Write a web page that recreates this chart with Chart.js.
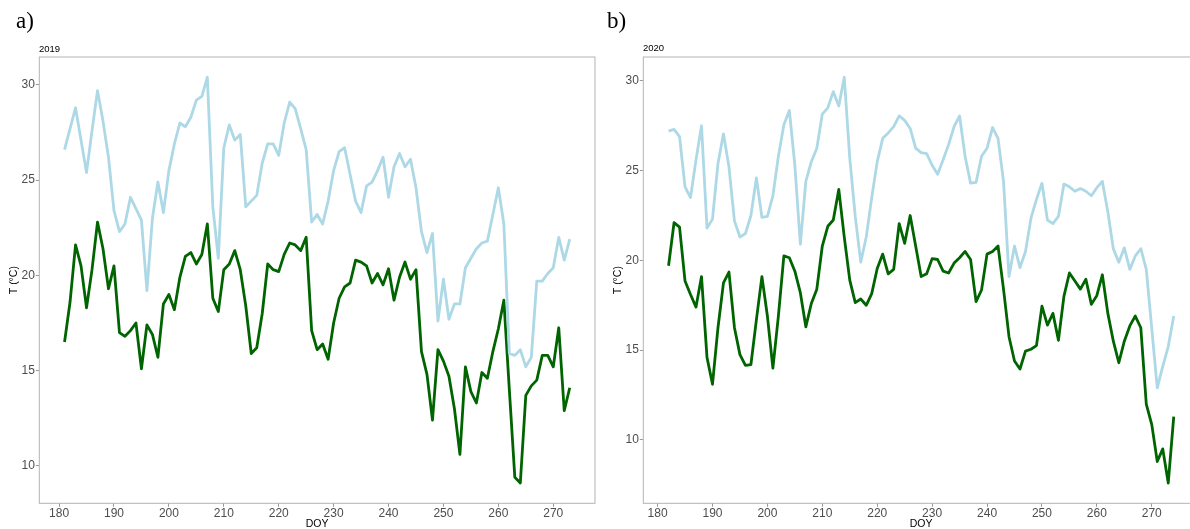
<!DOCTYPE html>
<html>
<head>
<meta charset="utf-8">
<script src="https://cdn.jsdelivr.net/npm/chart.js@4/dist/chart.umd.min.js"></script>
<style>
  html, body { margin: 0; padding: 0; background: #fff; }
  #wrap { position: relative; width: 1190px; height: 529px; overflow: hidden; }
  canvas { position: absolute; top: 0; }
  .tag { position: absolute; font-family: "Liberation Serif", serif; font-size: 23px; line-height: 1; color: #000; }
  .year { position: absolute; font-family: "Liberation Sans", sans-serif; font-size: 9.5px; line-height: 1; color: #000; }
</style>
</head>
<body>
<div id="wrap">
  <canvas id="c2019" width="600" height="529" style="left:0px"></canvas>
  <canvas id="c2020" width="600" height="529" style="left:604px"></canvas>
  <div class="tag" style="left:16px;top:9px">a)</div>
  <div class="tag" style="left:607px;top:9px">b)</div>
  <div class="year" style="left:39px;top:44px">2019</div>
  <div class="year" style="left:643px;top:43px">2020</div>
</div>
<script>
// daily values, DOY 181-273 (2019) and 182-274 (2020)
const doy2019 = Array.from({ length: 93 }, (_, i) => 181 + i);
const doy2020 = Array.from({ length: 93 }, (_, i) => 182 + i);

const high2019 = [
  26.6, 27.7, 28.8, 27.1, 25.4, 27.6, 29.7, 28.1, 26.2, 23.4,
  22.3, 22.7, 24.1, 23.5, 22.9, 19.2, 23.0, 24.9, 23.3, 25.5,
  26.9, 28.0, 27.8, 28.3, 29.2, 29.4, 30.4, 23.6, 20.9, 26.7,
  27.9, 27.1, 27.4, 23.6, 23.9, 24.2, 25.9, 26.9, 26.9, 26.3,
  28.0, 29.1, 28.75, 27.7, 26.6, 22.8, 23.2, 22.7, 23.9, 25.5,
  26.5, 26.7, 25.3, 23.9, 23.3, 24.7, 24.9, 25.5, 26.2, 24.1,
  25.7, 26.4, 25.7, 26.1, 24.6, 22.3, 21.2, 22.2, 17.6, 19.8,
  17.7, 18.5, 18.5, 20.4, 20.9, 21.4, 21.7, 21.8, 23.2, 24.6,
  22.7, 15.9, 15.8, 16.1, 15.2, 15.7, 19.7, 19.7, 20.1, 20.4,
  22.0, 20.8, 21.9
];
const low2019 = [
  16.5, 18.6, 21.6, 20.5, 18.3, 20.3, 22.8, 21.4, 19.3, 20.5,
  17.0, 16.8, 17.1, 17.5, 15.1, 17.4, 16.9, 15.7, 18.5, 19.0,
  18.2, 19.9, 21.0, 21.2, 20.6, 21.1, 22.7, 18.8, 18.1, 20.3,
  20.6, 21.3, 20.3, 18.4, 15.9, 16.2, 18.0, 20.6, 20.3, 20.2,
  21.1, 21.7, 21.6, 21.3, 22.0, 17.1, 16.1, 16.4, 15.6, 17.5,
  18.8, 19.4, 19.6, 20.8, 20.7, 20.5, 19.6, 20.1, 19.5, 20.35,
  18.7, 19.9, 20.7, 19.8, 20.3, 16.0, 14.8, 12.4, 16.1, 15.5,
  14.7, 13.0, 10.6, 15.2, 13.9, 13.3, 14.9, 14.6, 16.0, 17.2,
  18.7, 14.0, 9.4, 9.1, 13.7, 14.2, 14.5, 15.8, 15.8, 15.2,
  17.25, 12.9, 14.1
];
const high2020 = [
  27.2, 27.3, 26.9, 24.1, 23.5, 25.6, 27.5, 21.8, 22.3, 25.4,
  27.05, 25.2, 22.2, 21.3, 21.5, 22.5, 24.6, 22.4, 22.45, 23.6,
  25.8, 27.55, 28.35, 25.3, 20.9, 24.4, 25.5, 26.25, 28.15, 28.5,
  29.4, 28.6, 30.2, 25.7, 22.45, 19.9, 21.3, 23.5, 25.5, 26.8,
  27.1, 27.45, 28.05, 27.8, 27.35, 26.25, 26.0, 25.95, 25.3, 24.8,
  25.6, 26.45, 27.45, 28.05, 25.8, 24.3, 24.35, 25.8, 26.25, 27.4,
  26.8, 24.4, 19.1, 20.8, 19.6, 20.5, 22.35, 23.4, 24.3, 22.25,
  22.05, 22.45, 24.25, 24.1, 23.85, 24.0, 23.85, 23.6, 24.05, 24.4,
  22.7, 20.65, 19.9, 20.7, 19.5, 20.25, 20.65, 19.5, 16.2, 12.9,
  14.1, 15.2, 16.9
];
const low2020 = [
  19.7, 22.1, 21.85, 18.85, 18.1, 17.4, 19.1, 14.6, 13.1, 16.25,
  18.75, 19.35, 16.25, 14.75, 14.15, 14.2, 16.7, 19.1, 16.9, 14.0,
  16.9, 20.25, 20.15, 19.4, 18.2, 16.3, 17.6, 18.4, 20.8, 21.9,
  22.25, 23.95, 21.3, 18.9, 17.65, 17.85, 17.5, 18.15, 19.55, 20.35,
  19.25, 19.5, 22.05, 20.95, 22.5, 20.8, 19.1, 19.25, 20.1, 20.05,
  19.4, 19.3, 19.85, 20.15, 20.5, 20.05, 17.7, 18.35, 20.35, 20.5,
  20.8, 18.4, 15.75, 14.4, 13.95, 14.95, 15.05, 15.25, 17.45, 16.4,
  17.05, 15.55, 18.0, 19.3, 18.85, 18.4, 18.95, 17.55, 18.05, 19.2,
  17.05, 15.5, 14.3, 15.5, 16.35, 16.9, 16.25, 12.0, 10.85, 8.8,
  9.5, 7.6, 11.3
];

const xTicks = [180, 190, 200, 210, 220, 230, 240, 250, 260, 270];
const yTicks = [10, 15, 20, 25, 30];

const LIGHT = '#add8e6';
const DARK = '#006400';
const FONT = '"Liberation Sans", Arial, sans-serif';

// ggplot-like panel border
const framePlugin = {
  id: 'frame',
  afterDatasetsDraw(chart) {
    const { ctx, chartArea: a } = chart;
    ctx.save();
    ctx.strokeStyle = '#b3b3b3';
    ctx.lineWidth = 1;
    ctx.strokeRect(a.left, a.top, a.right - a.left, a.bottom - a.top);
    ctx.restore();
  }
};

// 5% expansion on each side, as in ggplot
function expand(values) {
  const lo = Math.min(...values), hi = Math.max(...values);
  const pad = (hi - lo) * 0.05;
  return [lo - pad, hi + pad];
}

function makeChart(id, days, high, low) {
  const [xmin, xmax] = expand(days);
  const [ymin, ymax] = expand(high.concat(low));
  const pts = arr => arr.map((v, i) => ({ x: days[i], y: v }));
  const line = (data, color) => ({
    data: pts(data),
    borderColor: color,
    borderWidth: 2.8,
    borderJoinStyle: 'round',
    pointRadius: 0,
    tension: 0,
    fill: false
  });
  return new Chart(document.getElementById(id), {
    type: 'line',
    data: { datasets: [line(high, LIGHT), line(low, DARK)] },
    options: {
      responsive: false,
      animation: false,
      layout: { padding: { top: 57, right: 5, bottom: 0, left: 0 } },
      plugins: { legend: { display: false }, tooltip: { enabled: false } },
      scales: {
        x: {
          type: 'linear',
          min: xmin,
          max: xmax,
          afterBuildTicks: s => { s.ticks = xTicks.map(v => ({ value: v })); },
          afterFit: s => { s.height = 25.7; },
          grid: { drawOnChartArea: false, tickLength: 3.5, color: '#999' },
          border: { display: false },
          ticks: { padding: 0, color: '#4d4d4d', font: { family: FONT, size: 12 }, callback: v => String(v) },
          title: { display: true, text: 'DOY', color: '#000', font: { family: FONT, size: 10.5, lineHeight: 1 }, padding: { top: 0, bottom: 0 } }
        },
        y: {
          min: ymin,
          max: ymax,
          afterBuildTicks: s => { s.ticks = yTicks.map(v => ({ value: v })); },
          afterFit: s => { s.width = 39.3; },
          grid: { drawOnChartArea: false, tickLength: 3.5, color: '#999' },
          border: { display: false },
          ticks: { padding: 1, color: '#4d4d4d', font: { family: FONT, size: 12 }, callback: v => String(v) },
          title: { display: true, text: 'T (°C)', color: '#000', font: { family: FONT, size: 10.5, lineHeight: 1 }, padding: { top: 8.7, bottom: 0 } }
        }
      }
    },
    plugins: [framePlugin]
  });
}

makeChart('c2019', doy2019, high2019, low2019);
makeChart('c2020', doy2020, high2020, low2020);
</script>
</body>
</html>
